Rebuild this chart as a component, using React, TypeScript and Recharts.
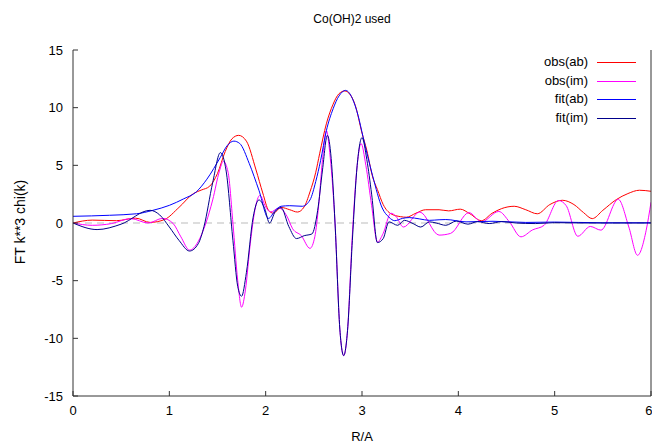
import { LineChart, Line, XAxis, YAxis, ReferenceLine } from "recharts";

const xTicks = [0, 1, 2, 3, 4, 5, 6];
const yTicks = [-15, -10, -5, 0, 5, 10, 15];

// [R, value] pairs
const obsAb: [number, number][] = [
  [0, 0.0], [0.2, 0.25], [0.45, 0.2], [0.65, 0.42], [0.8, 0.05], [0.95, 0.3],
  [1.1, 1.35], [1.25, 2.55], [1.33, 2.85], [1.42, 3.2], [1.5, 4.3], [1.58, 6.2],
  [1.65, 7.3], [1.72, 7.6], [1.8, 7.1], [1.9, 4.6], [1.97, 2.6], [2.03, 1.1],
  [2.08, 0.85], [2.16, 1.35], [2.25, 1.15], [2.33, 0.95], [2.4, 1.4], [2.46, 2.7],
  [2.52, 4.4], [2.56, 6.0], [2.63, 8.6], [2.7, 10.3], [2.76, 11.2], [2.82, 11.45],
  [2.88, 11.1], [2.93, 10.2], [3.0, 7.8], [3.05, 6.3], [3.11, 4.0], [3.16, 2.9],
  [3.22, 1.6], [3.3, 0.8], [3.4, 0.55], [3.46, 0.5], [3.56, 0.85], [3.66, 1.15],
  [3.8, 1.15], [3.9, 1.05], [4.02, 1.2], [4.12, 0.8], [4.24, 0.2], [4.35, 0.84],
  [4.45, 1.25], [4.58, 1.45], [4.7, 1.15], [4.82, 0.8], [4.95, 1.6], [5.08, 1.97],
  [5.2, 1.6], [5.3, 0.9], [5.39, 0.38], [5.5, 1.1], [5.64, 2.03], [5.76, 2.55],
  [5.88, 2.84], [6.0, 2.75],
];

const obsIm: [number, number][] = [
  [0, 0], [0.2, -0.2], [0.4, -0.05], [0.6, 0.38], [0.78, 0.0], [0.93, 0.4],
  [1.04, -0.05], [1.12, -1.2], [1.21, -2.35], [1.3, -1.6], [1.38, 0.0], [1.45, 2.0],
  [1.52, 4.5], [1.56, 5.35], [1.61, 4.4], [1.66, 0.0], [1.71, -5.0], [1.75, -7.3],
  [1.79, -5.8], [1.84, -1.8], [1.89, 1.2], [1.94, 2.4], [2.0, 1.4], [2.05, 0.95],
  [2.14, 1.3], [2.22, 0.6], [2.28, -0.5], [2.37, -1.1], [2.46, -2.2], [2.51, -1.2],
  [2.55, 1.5], [2.59, 5.5], [2.63, 8.0], [2.67, 5.7], [2.72, 0.0], [2.77, -9.2],
  [2.81, -11.5], [2.85, -9.3], [2.9, -1.0], [2.95, 5.0], [2.99, 6.9], [3.04, 5.0],
  [3.1, 1.5], [3.16, -1.65], [3.22, -0.9], [3.3, 0.85], [3.35, 0.6], [3.43, -0.35],
  [3.6, 0.95], [3.8, -1.05], [3.92, -0.9], [4.11, 0.9], [4.24, 0.1], [4.42, 1.0],
  [4.53, 0.1], [4.65, -1.2], [4.77, -0.6], [4.89, -0.2], [5.04, 1.95], [5.12, 1.5],
  [5.24, -1.15], [5.37, -0.3], [5.48, -0.62], [5.66, 2.05], [5.77, -0.35],
  [5.86, -2.8], [5.95, -0.63], [6.0, 1.8],
];

const fitAb: [number, number][] = [
  [0, 0.58], [0.38, 0.67], [0.66, 0.8], [0.83, 1.1], [1.0, 1.53], [1.15, 2.1],
  [1.28, 2.7], [1.39, 3.8], [1.53, 5.7], [1.6, 6.7], [1.67, 7.1], [1.73, 6.9],
  [1.83, 5.15], [1.93, 2.84], [2.03, 0.4], [2.1, 1.1], [2.16, 1.45], [2.25, 1.5],
  [2.38, 1.45], [2.46, 2.0], [2.52, 3.6], [2.57, 5.4], [2.63, 8.0], [2.7, 9.9],
  [2.76, 11.0], [2.83, 11.5], [2.9, 10.8], [2.96, 9.3], [3.01, 7.5], [3.11, 4.1],
  [3.21, 1.3], [3.28, 0.5], [3.34, 0.2], [3.42, 0.4], [3.49, 0.47], [3.6, 0.35],
  [3.7, 0.23], [3.8, 0.28], [3.87, 0.3], [4.08, 0.1], [4.36, 0.15], [4.7, 0.05],
  [5.0, 0.08], [5.5, 0.02], [6.0, 0.02],
];

const fitIm: [number, number][] = [
  [0, 0], [0.25, -0.57], [0.5, -0.1], [0.8, 1.1], [0.9, 0.7], [1.0, -0.35],
  [1.1, -1.5], [1.21, -2.43], [1.3, -1.8], [1.36, -0.3], [1.45, 3.5], [1.53, 6.1],
  [1.59, 4.5], [1.66, -1.5], [1.71, -5.5], [1.75, -6.35], [1.8, -4.3], [1.87, 0.5],
  [1.93, 2.0], [1.99, 1.25], [2.04, 0.0], [2.1, 1.0], [2.16, 1.33], [2.24, -0.3],
  [2.32, -1.35], [2.4, -1.1], [2.48, -0.95], [2.54, 1.1], [2.59, 4.6], [2.64, 7.6],
  [2.68, 5.6], [2.72, 0], [2.77, -9.2], [2.81, -11.5], [2.85, -9.3], [2.9, -1.5],
  [2.95, 5.0], [3.0, 7.4], [3.05, 5.5], [3.1, 2.5], [3.16, -1.7], [3.22, -1.35],
  [3.28, 0.1], [3.37, -0.2], [3.44, 0.23], [3.53, -0.05], [3.61, -0.35], [3.7, 0.1],
  [3.77, 0.0], [3.87, -0.2], [3.98, 0.17], [4.1, -0.1], [4.2, 0.12], [4.32, -0.05],
  [4.45, 0.12], [4.6, 0.0], [4.8, -0.05], [5.0, 0.03], [5.3, 0.0], [5.6, 0.0],
  [6.0, 0.0],
];

const series = [
  { name: "obs(ab)", color: "#ff0000", points: obsAb },
  { name: "obs(im)", color: "#ff00ff", points: obsIm },
  { name: "fit(ab)", color: "#0000ff", points: fitAb },
  { name: "fit(im)", color: "#00008b", points: fitIm },
];

const font = '"Liberation Sans", Arial, sans-serif';

export default function App() {
  return (
    <div
      style={{
        position: "fixed",
        left: 0,
        top: 0,
        width: 652,
        height: 448,
        background: "#fff",
        fontFamily: font,
        fontSize: 13,
        color: "#000",
      }}
    >
      <LineChart width={652} height={448} margin={{ top: 50, right: 0, bottom: 0, left: 13 }}>
        <XAxis
          xAxisId="b"
          type="number"
          dataKey="r"
          domain={[0, 6]}
          ticks={xTicks}
          height={52}
          tickSize={-5}
          tickMargin={15}
          stroke="#333"
          tick={{ fill: "#000", fontSize: 13, fontFamily: font }}
          allowDataOverflow
        />
        <XAxis
          xAxisId="t"
          orientation="top"
          type="number"
          dataKey="r"
          domain={[0, 6]}
          ticks={xTicks}
          height={0}
          tickSize={-5}
          stroke="#333"
          tick={false}
        />
        <YAxis
          yAxisId="l"
          type="number"
          domain={[-15, 15]}
          ticks={yTicks}
          width={60}
          tickSize={-5}
          tickMargin={15}
          stroke="#333"
          tick={{ fill: "#000", fontSize: 13, fontFamily: font }}
          allowDataOverflow
        />
        <YAxis
          yAxisId="r"
          orientation="right"
          type="number"
          domain={[-15, 15]}
          ticks={yTicks}
          width={1}
          tickSize={-5}
          stroke="#333"
          tick={false}
        />
        <ReferenceLine xAxisId="b" yAxisId="l" y={0} stroke="#bbbbbb" strokeDasharray="7 5" />
        {series.map((s) => (
          <Line
            key={s.name}
            xAxisId="b"
            yAxisId="l"
            data={s.points.map(([r, v]) => ({ r, v }))}
            dataKey="v"
            name={s.name}
            type="monotone"
            stroke={s.color}
            strokeWidth={1}
            dot={false}
            isAnimationActive={false}
          />
        ))}
      </LineChart>

      <div style={{ position: "absolute", top: 12, left: 352, transform: "translateX(-50%)", whiteSpace: "nowrap", fontSize: 12 }}>
        Co(OH)2 used
      </div>
      <div
        style={{
          position: "absolute",
          left: 20,
          top: 222,
          transform: "translate(-50%, -50%) rotate(-90deg)",
          whiteSpace: "nowrap",
          fontSize: 14,
        }}
      >
        FT k**3 chi(k)
      </div>
      <div style={{ position: "absolute", top: 429, left: 362, transform: "translateX(-50%)" }}>R/A</div>

      {series.map((s, i) => (
        <div key={s.name} style={{ position: "absolute", top: 62 + i * 18.7 - 8, left: 480, width: 160, height: 16 }}>
          <span style={{ position: "absolute", right: 52, top: 0, lineHeight: "16px" }}>{s.name}</span>
          <span
            style={{
              position: "absolute",
              left: 117,
              top: 8,
              width: 39,
              height: 1,
              background: s.color,
            }}
          />
        </div>
      ))}
    </div>
  );
}
